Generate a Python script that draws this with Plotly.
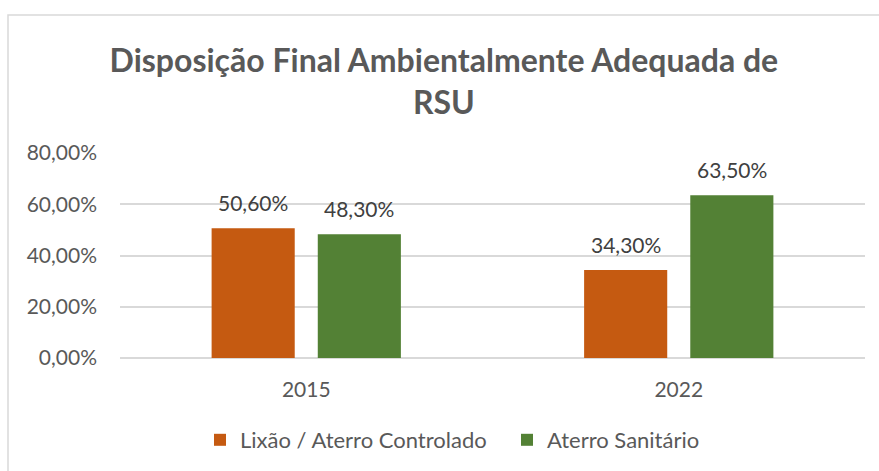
import plotly.graph_objects as go

categories = ["2015", "2022"]
series_names = ["Lixão / Aterro Controlado", "Aterro Sanitário"]
lixao_values = [0.506, 0.343]
aterro_values = [0.483, 0.635]
colors = ["#C55A11", "#538135"]
y_ticks = [0, 0.2, 0.4, 0.6, 0.8]

W, H = 879, 471
L, R, T, B = 120, 14, 153, 113
pw, ph = W - L - R, H - T - B

font_family = "Lato, Open Sans, sans-serif"
gray = "#595959"
FS = 21

fig = go.Figure()
annotations = []
for i, (name, vals, col) in enumerate(zip(series_names, [lixao_values, aterro_values], colors)):
    fig.add_trace(go.Bar(
        x=categories, y=vals, name=name,
        marker=dict(color=col, line=dict(width=0)),
        offsetgroup=str(i),
    ))
    for j, v in enumerate(vals):
        annotations.append(dict(
            x=j, y=v, xref="x", yref="y", text=f"{v*100:.2f}%".replace(".", ","),
            showarrow=False, yanchor="bottom", yshift=11,
            xshift=(-53 if i == 0 else 53),
            font=dict(size=FS, color="#404040", family=font_family),
        ))

def px_x(x):
    return (x - L) / pw

def px_y(y):
    return (H - B - y) / ph

fig.update_layout(
    width=W, height=H,
    margin=dict(l=L, r=R, t=T, b=B, autoexpand=False),
    paper_bgcolor="white", plot_bgcolor="white",
    separators=",.",
    barmode="group", bargap=0.43, bargroupgap=0.217,
    title=dict(text="<b>Disposição Final Ambientalmente Adequada de<br>RSU</b>",
               x=0.505, xanchor="center", y=1 - 72 / H, yanchor="middle",
               font=dict(size=32, color=gray, family=font_family)),
    font=dict(family=font_family, color=gray, size=FS),
    xaxis=dict(type="category", range=[-0.5, 1.5], showgrid=False, showline=False, ticks="",
               tickfont=dict(size=FS, color=gray), ticklabelstandoff=17),
    yaxis=dict(range=[0, 0.8], tickvals=y_ticks, tickformat=".2%",
               showgrid=True, gridcolor="#D9D9D9", gridwidth=1.5,
               zeroline=True, zerolinecolor="#D9D9D9", zerolinewidth=1.5,
               showline=False, ticks="", ticklen=0, tickfont=dict(size=FS, color=gray),
               ticklabelstandoff=22),
    legend=dict(orientation="h", x=px_x(200), xanchor="left", y=px_y(440), yanchor="middle",
                font=dict(size=22, color=gray), itemwidth=30, traceorder="normal",
                entrywidth=262, entrywidthmode="pixels", bgcolor="rgba(0,0,0,0)"),
    showlegend=True,
    annotations=annotations,
    shapes=[dict(type="rect", xref="paper", yref="paper",
                 x0=px_x(8), x1=px_x(W + 20), y0=px_y(H + 20), y1=px_y(15),
                 line=dict(color="#D9D9D9", width=1.5), fillcolor="rgba(0,0,0,0)", layer="below")],
)

fig.write_html("out.html", config={"displayModeBar": False},
               post_script="document.body.style.margin='0';document.body.style.overflow='hidden';")
